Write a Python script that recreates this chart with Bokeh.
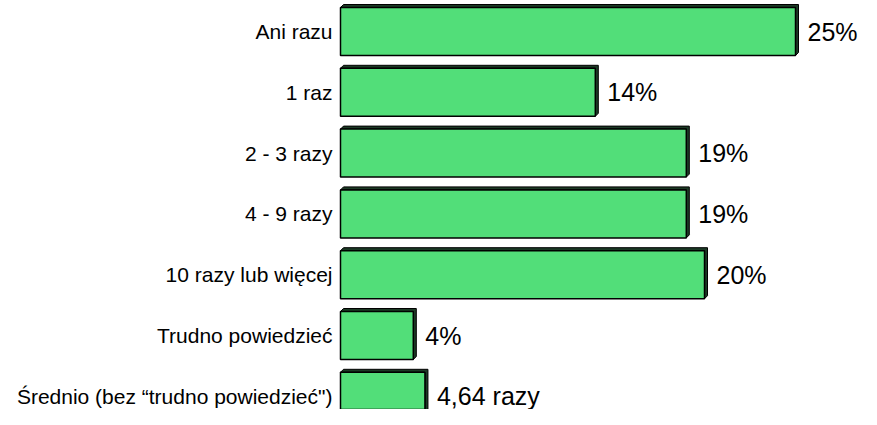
from bokeh.plotting import figure
from bokeh.models import Range1d, ColumnDataSource
from bokeh.core.properties import value
from bokeh.embed import file_html
from bokeh.resources import INLINE

categories = ["Ani razu", "1 raz", "2 - 3 razy", "4 - 9 razy",
              "10 razy lub więcej", "Trudno powiedzieć",
              "Średnio (bez \u201ctrudno powiedzieć\")"]
values = [25, 14, 19, 19, 20, 4, 4.64]
value_labels = ["25%", "14%", "19%", "19%", "20%", "4%", "4,64 razy"]

W, H = 861, 409
PX_PER_UNIT_X = 18.2
PX_PER_UNIT_Y = 60.8
X0_PX = 340
Y0_PX = 31

x_start = -X0_PX / PX_PER_UNIT_X
x_end = (W - X0_PX) / PX_PER_UNIT_X
y_top = -Y0_PX / PX_PER_UNIT_Y
y_bottom = (H - Y0_PX) / PX_PER_UNIT_Y

p = figure(width=W, height=H, output_backend="svg", toolbar_location=None,
           x_range=Range1d(x_start, x_end), y_range=Range1d(y_bottom, y_top),
           min_border=0, outline_line_color=None)
p.axis.visible = False
p.grid.visible = False
p.background_fill_color = "white"

ys = list(range(len(categories)))
bar_h = 48 / PX_PER_UNIT_Y
half = bar_h / 2
dx = 3 / PX_PER_UNIT_X
dy = 3 / PX_PER_UNIT_Y

# depth faces (3D look)
xs_d, ys_d = [], []
for y, v in zip(ys, values):
    top, bot = y - half, y + half
    xs_d.append([0, dx, v + dx, v + dx, v, v])
    ys_d.append([top, top - dy, top - dy, bot - dy, bot, top])
p.patches(xs_d, ys_d, fill_color="#1c3a25", line_color="black", line_width=1)

src = ColumnDataSource(dict(y=ys, v=values, cat=categories, lab=value_labels,
                            vx=[v + dx for v in values]))
p.hbar(y="y", left=0, right="v", height=bar_h, source=src,
       fill_color="#52DE79", line_color="black", line_width=1.5)

p.text(x=0, y="y", text="cat", source=src, x_offset=-8,
       text_align="right", text_baseline="middle",
       text_font=value("Liberation Sans"), text_font_size="21px", text_color="black")
p.text(x="vx", y="y", text="lab", source=src, x_offset=9,
       text_align="left", text_baseline="middle",
       text_font=value("Liberation Sans"), text_font_size="25px", text_color="black")

open("out.html", "w").write(file_html(p, INLINE))
